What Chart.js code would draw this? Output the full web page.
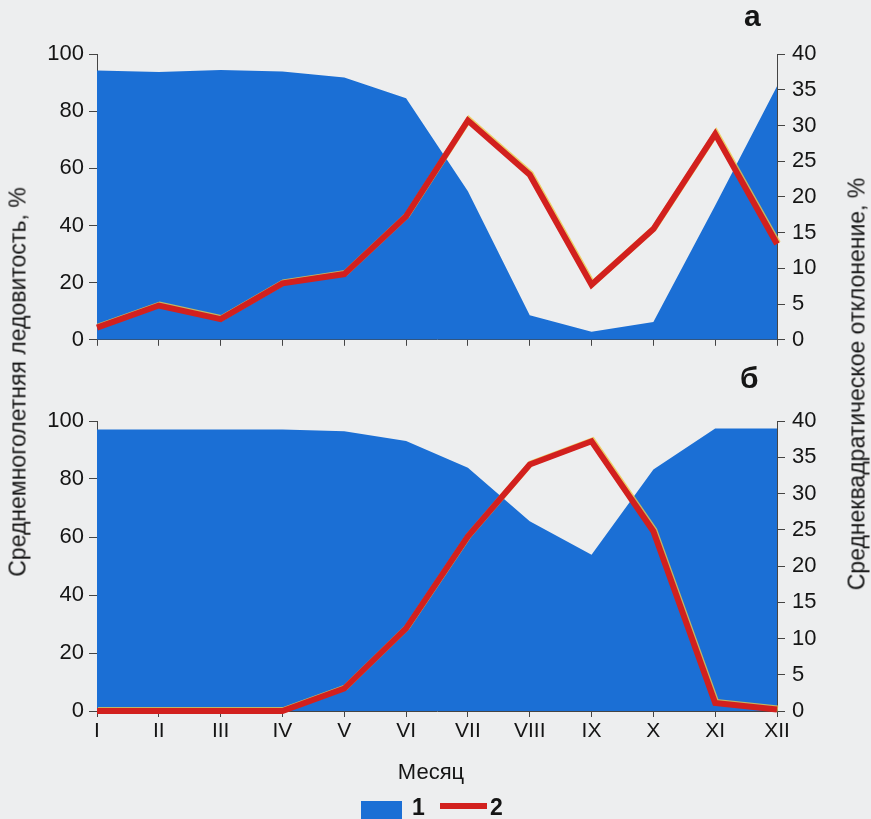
<!DOCTYPE html>
<html lang="ru">
<head>
<meta charset="utf-8">
<script src="https://cdn.jsdelivr.net/npm/chart.js@4.4.1/dist/chart.umd.min.js"></script>
<style>
  html, body { margin: 0; padding: 0; background: #edeeef; }
  #page { position: relative; width: 871px; height: 819px; overflow: hidden;
          font-family: "Liberation Sans", Arial, sans-serif; color: #151515; }
  canvas { position: absolute; left: 0; }
  .titre { position: absolute; white-space: nowrap; font-size: 23px;
           transform: translate(-50%, -50%) rotate(-90deg); }
  .lettre { position: absolute; font-weight: bold; font-size: 30px; }
  .leg { position: absolute; }
</style>
</head>
<body>
<div id="page">
  <canvas id="panneau-a" width="871" height="360" style="top:0"></canvas>
  <canvas id="panneau-b" width="871" height="400" style="top:360px"></canvas>

  <div class="lettre" style="left:744px; top:-1px">а</div>
  <div class="lettre" style="left:740px; top:361px">б</div>

  <div class="titre" style="left:18px; top:382px">Среднемноголетняя ледовитость, %</div>
  <div class="titre" style="left:857px; top:384px">Среднеквадратическое отклонение, %</div>

  <div style="position:absolute; left:431px; top:772px; transform:translate(-50%,-50%); font-size:22px">Месяц</div>

  <div class="leg" style="left:361px; top:801px; width:41px; height:22px; background:#1b6fd5"></div>
  <div class="leg" style="left:412px; top:794px; font-weight:bold; font-size:23px">1</div>
  <div class="leg" style="left:440px; top:803px; width:47px; height:6px; background:#d2201e"></div>
  <div class="leg" style="left:490px; top:794px; font-weight:bold; font-size:23px">2</div>
</div>

<script>
// Месяцы
const mois = ['I', 'II', 'III', 'IV', 'V', 'VI', 'VII', 'VIII', 'IX', 'X', 'XI', 'XII'];

// а : ледовитость (%) et écart-type (%)
const glaceA = [94.2, 93.7, 94.4, 93.9, 91.8, 84.5, 52, 8.6, 2.8, 6.2, 47, 88.7];
const ecartA = [1.7, 4.8, 2.9, 7.9, 9.2, 17.3, 30.7, 23.1, 7.7, 15.5, 28.8, 13.4];

// б
const glaceB = [97.1, 97.1, 97.1, 97.1, 96.5, 93.1, 83.9, 65.4, 53.9, 83.3, 97.4, 97.4];
const ecartB = [0, 0, 0, 0, 3.1, 11.4, 24.1, 34.0, 37.2, 24.8, 1.1, 0.2];

// Graduations
const ticksGauche = { min: 0, max: 100, pas: 20 };
const ticksDroite = { min: 0, max: 40, pas: 5 };

const BLEU = '#1b6fd5';
const ROUGE = '#d2201e';
const AXE = '#444';
const TEXTE = '#151515';
const police = { family: '"Liberation Sans", Arial, sans-serif', size: 22 };

// Petit liseré jaune décalé sous la ligne rouge (défaut d'impression)
const liseréJaune = {
    id: 'lisereJaune',
    beforeDatasetDraw(chart, args) {
        if (args.meta.type !== 'line' || args.meta.dataset.options.fill) return;
        const ctx = chart.ctx;
        ctx.save();
        ctx.shadowColor = 'rgba(235, 200, 70, 0.8)';
        ctx.shadowOffsetX = 1;
        ctx.shadowOffsetY = -1;
        ctx.shadowBlur = 0;
    },
    afterDatasetDraw(chart, args) {
        if (args.meta.type !== 'line' || args.meta.dataset.options.fill) return;
        chart.ctx.restore();
    }
};

function creerPanneau(idCanvas, glace, ecart, hautPlot, avecEtiquettes, hauteurAxeX) {
    const ctx = document.getElementById(idCanvas).getContext('2d');
    return new Chart(ctx, {
        type: 'line',
        data: {
            labels: mois,
            datasets: [
                {
                    label: '1',
                    data: glace,
                    yAxisID: 'y',
                    fill: 'origin',
                    backgroundColor: BLEU,
                    borderColor: BLEU,
                    borderWidth: 0,
                    pointRadius: 0,
                    tension: 0,
                    order: 2,
                },
                {
                    label: '2',
                    data: ecart,
                    yAxisID: 'y2',
                    fill: false,
                    borderColor: ROUGE,
                    borderWidth: 6,
                    borderJoinStyle: 'miter',
                    pointRadius: 0,
                    tension: 0,
                    clip: false,
                    order: 1,
                }
            ]
        },
        options: {
            responsive: false,
            animation: false,
            events: [],
            layout: { padding: { top: hautPlot, left: 0, right: 0, bottom: 0 } },
            plugins: { legend: { display: false }, tooltip: { enabled: false } },
            scales: {
                x: {
                    type: 'category',
                    offset: false,
                    grid: { display: true, drawOnChartArea: false, drawTicks: true,
                            tickLength: 6, color: AXE, lineWidth: 1 },
                    border: { display: true, color: AXE, width: 1 },
                    ticks: { display: avecEtiquettes, autoSkip: false, maxRotation: 0,
                             padding: 2, color: TEXTE, font: { ...police, size: 21 } },
                    afterFit: s => { s.height = hauteurAxeX; }
                },
                y: {
                    position: 'left',
                    min: ticksGauche.min, max: ticksGauche.max,
                    grid: { display: true, drawOnChartArea: false, drawTicks: true,
                            tickLength: 8, color: AXE, lineWidth: 1 },
                    border: { display: true, color: AXE, width: 1 },
                    ticks: { stepSize: ticksGauche.pas, padding: 5, color: TEXTE, font: police },
                    afterFit: s => { s.width = 97; }
                },
                y2: {
                    position: 'right',
                    min: ticksDroite.min, max: ticksDroite.max,
                    grid: { display: true, drawOnChartArea: false, drawTicks: true,
                            tickLength: 8, color: AXE, lineWidth: 1 },
                    border: { display: true, color: AXE, width: 1 },
                    ticks: { stepSize: ticksDroite.pas, padding: 7, color: TEXTE, font: police },
                    afterFit: s => { s.width = 94; }
                }
            }
        },
        plugins: [liseréJaune]
    });
}

creerPanneau('panneau-a', glaceA, ecartA, 54, false, 16);
creerPanneau('panneau-b', glaceB, ecartB, 61, true, 49);
</script>
</body>
</html>
